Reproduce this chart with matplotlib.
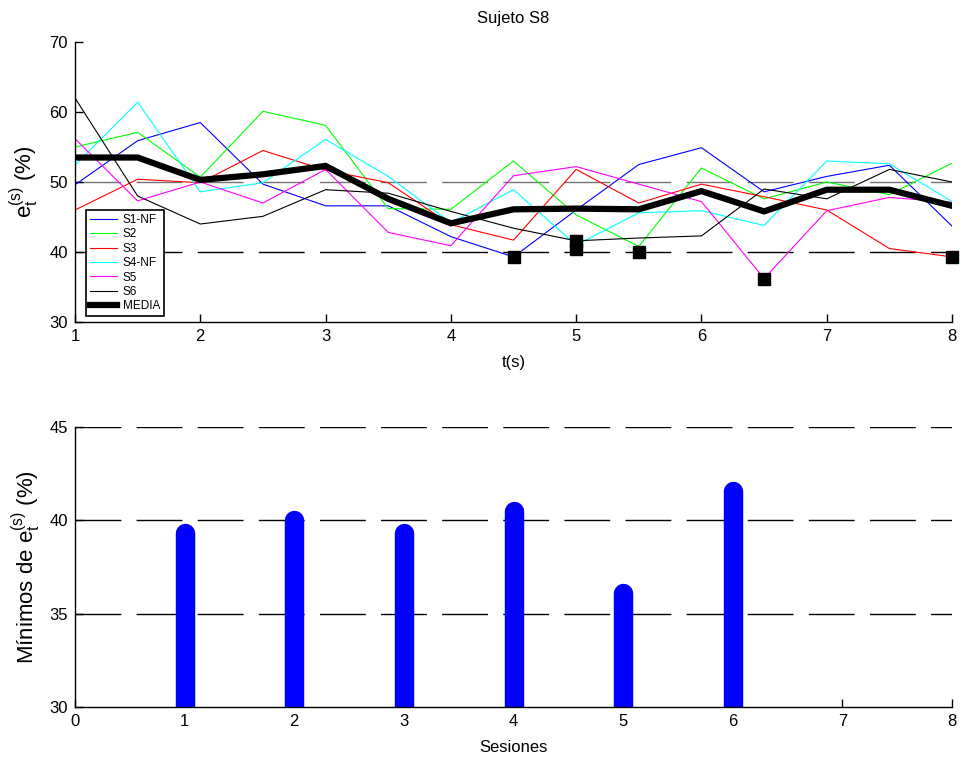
import numpy as np
import matplotlib
matplotlib.use("Agg")
import matplotlib.pyplot as plt

plt.rcParams['font.family'] = ['Liberation Sans', 'DejaVu Sans']
plt.rcParams['mathtext.fontset'] = 'custom'
plt.rcParams['mathtext.rm'] = 'Liberation Sans'

# tiempo (s)
t = [1, 1.5, 2, 2.5, 3, 3.5, 4, 4.5, 5, 5.5, 6, 6.5, 7, 7.5, 8]

s1 = [49.6, 55.9, 58.5, 49.7, 46.6, 46.6, 42.2, 39.3, 46.0, 52.5, 54.9, 48.6, 50.8, 52.4, 43.7]
s2 = [55.0, 57.1, 50.7, 60.1, 58.1, 46.2, 46.1, 53.0, 45.3, 40.8, 52.0, 47.6, 50.0, 48.2, 52.7]
s3 = [46.0, 50.4, 49.9, 54.5, 51.7, 49.9, 43.9, 41.7, 51.8, 47.0, 49.7, 47.9, 46.0, 40.5, 39.3]
s4 = [52.4, 61.4, 48.6, 49.9, 56.1, 50.8, 44.2, 48.9, 41.0, 45.6, 45.9, 43.8, 53.0, 52.6, 47.2]
s5 = [56.2, 47.3, 50.0, 47.0, 51.8, 42.8, 40.9, 50.9, 52.2, 49.7, 47.2, 36.2, 45.9, 47.8, 47.1]
s6 = [62.0, 48.0, 44.0, 45.1, 48.9, 48.4, 45.8, 43.4, 41.6, 42.0, 42.3, 49.0, 47.6, 51.8, 50.0]
media = [53.5, 53.5, 50.3, 51.1, 52.3, 47.6, 44.1, 46.1, 46.2, 46.1, 48.7, 45.8, 48.9, 48.9, 46.6]

series = [s1, s2, s3, s4, s5, s6]
names = ['S1-NF', 'S2', 'S3', 'S4-NF', 'S5', 'S6']
colors = ['#0000ff', '#00ff00', '#ff0000', '#00ffff', '#ff00ff', '#000000']

# minimos de cada sesion
sesiones = [1, 2, 3, 4, 5, 6]
t_min = [4.5, 5.5, 8, 5, 6.5, 5]
minimos = [39.3, 40.0, 39.3, 40.5, 36.1, 41.6]

fig = plt.figure(figsize=(9.64, 7.6), dpi=100)
ax1 = fig.add_axes([0.0778, 0.5763, 0.9098, 0.3684])
ax2 = fig.add_axes([0.0778, 0.0697, 0.9098, 0.3684])

dash = (33, 11)

# --- arriba
ax1.axhline(50, color='0.45', lw=1, dashes=dash, zorder=1)
ax1.axhline(40, color='black', lw=1, dashes=dash, zorder=1)
for y, nm, c in zip(series, names, colors):
    ax1.plot(t, y, color=c, lw=0.8, label=nm, zorder=2)
ax1.plot(t, media, color='black', lw=4.5, label='MEDIA', zorder=3,
         solid_joinstyle='miter')
ax1.plot(t_min, minimos, 's', color='black', ms=8.5, zorder=4, clip_on=False)

ax1.set_xlim(1, 8)
ax1.set_ylim(30, 70)
ax1.set_xticks(range(1, 9))
ax1.set_yticks(range(30, 71, 10))
ax1.set_title('Sujeto S8', fontsize=12, pad=14)
ax1.set_xlabel('t(s)', fontsize=12, labelpad=8)
ax1.set_ylabel(r'$\mathregular{e_t^{(s)}}$ (%)', fontsize=16, labelpad=6)

leg = ax1.legend(loc='lower left', bbox_to_anchor=(0.012, 0.02), fontsize=8.5,
                 frameon=True, fancybox=False, framealpha=1, edgecolor='black',
                 borderpad=0.35, labelspacing=0.2, handlelength=2.3,
                 handletextpad=0.5, borderaxespad=0)
leg.get_frame().set_linewidth(1.2)

# --- abajo
for lev in [35, 40, 45]:
    ax2.axhline(lev, color='black', lw=1, dashes=dash, zorder=1)
for s, m in zip(sesiones, minimos):
    ax2.plot([s, s], [29, m], color='#0000ff', lw=14, solid_capstyle='round',
             zorder=2)

ax2.set_xlim(0, 8)
ax2.set_ylim(30, 45)
ax2.set_xticks(range(0, 9))
ax2.set_yticks([30, 35, 40, 45])
ax2.set_xlabel('Sesiones', fontsize=12, labelpad=8)
ax2.set_ylabel(r'Mínimos de $\mathregular{e_t^{(s)}}$ (%)', fontsize=16, labelpad=5)

for ax in (ax1, ax2):
    ax.spines['top'].set_visible(False)
    ax.spines['right'].set_visible(False)
    ax.spines['left'].set_linewidth(1)
    ax.spines['bottom'].set_linewidth(1)
    ax.tick_params(direction='in', length=6, width=1, labelsize=12, pad=5)

fig.savefig('out.png', dpi=100)
